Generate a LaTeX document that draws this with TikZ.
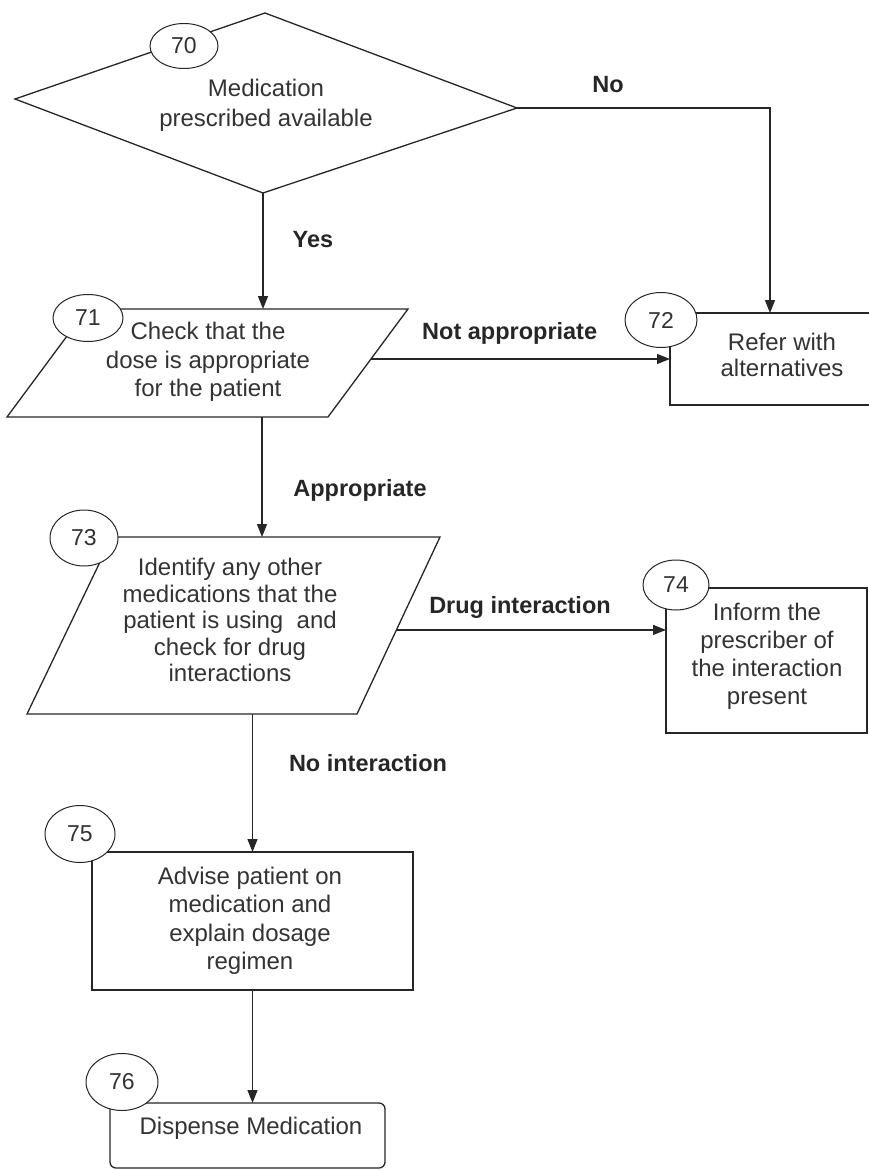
\documentclass[tikz,border=0pt]{standalone}
\usepackage{fontspec}
\setmainfont{Liberation Sans}
\usetikzlibrary{arrows.meta,shapes.geometric}
\definecolor{ink}{HTML}{262626}
\definecolor{txt}{HTML}{333333}
\begin{document}
\begin{tikzpicture}[x=1pt,y=-1pt,
  shapeline/.style={draw=ink,line width=1.3pt,line join=miter},
  flow/.style={draw=ink,line width=1.3pt,-{Triangle[length=13pt,width=10pt]}},
  stepbox/.style={shapeline,rectangle,fill=white,inner sep=0pt,outer sep=0pt},
  tag/.style={ellipse,draw=ink,line width=1pt,fill=white,inner sep=0pt,text=txt,
    font=\fontsize{23}{23}\selectfont},
  body/.style={align=center,text=txt,inner sep=0pt,font=\fontsize{24}{#1}\selectfont},
  body/.default=28.5,
  lbl/.style={text=ink,inner sep=0pt,font=\fontsize{23.5}{28}\selectfont\bfseries}]
\useasboundingbox (0,0) rectangle (869,1170);

% decision 70
\coordinate (dL) at (15,99);
\coordinate (dT) at (265,13);
\coordinate (dR) at (517,108);
\coordinate (dB) at (263,193);
\draw[shapeline,fill=white] (dL) -- (dT) -- (dR) -- (dB) -- cycle;
\node[body=30] (t70) at (266,105) {Medication\\prescribed available};

% input 71
\coordinate (p71TL) at (87,309);
\coordinate (p71TR) at (408,309);
\coordinate (p71BR) at (328,417);
\coordinate (p71BL) at (7,417);
\draw[shapeline] (p71TL) -- (p71TR) -- coordinate[pos=0.463] (e71) (p71BR) -- (p71BL) -- cycle;
\coordinate (o71) at (262,417);
\node[body] (t71) at (208,362) {Check that the\\dose is appropriate\\for the patient};

% box 72
\node[stepbox,minimum width=200pt,minimum height=92pt] (b72) at (770,359) {};
\node[body=26] (t72) at (782,355) {Refer with\\alternatives};

% input 73
\coordinate (p73TL) at (112,537);
\coordinate (p73TR) at (440,537);
\coordinate (p73BR) at (357,714);
\coordinate (p73BL) at (27,714);
\draw[shapeline] (p73TL) -- (p73TR) -- coordinate[pos=0.525] (e73) (p73BR) -- (p73BL) -- cycle;
\node[body=26.5] (t73) at (230,620) {Identify any other\\medications that the\\patient is using~~and\\check for drug\\interactions};

% box 74
\node[stepbox,minimum width=201pt,minimum height=145pt] (b74) at (766.5,660.5) {};
\node[body=28] (t74) at (767,656.5) {Inform the\\prescriber of\\the interaction\\present};

% box 75
\node[stepbox,minimum width=321pt,minimum height=138pt] (b75) at (252.5,921) {};
\node[body] (t75) at (250,921) {Advise patient on\\medication and\\explain dosage\\regimen};

% box 76
\node[stepbox,rounded corners=6pt,minimum width=275pt,minimum height=65pt] (b76) at (247.5,1135.5) {};
\node[body] (t76) at (251,1128) {Dispense Medication};

% number tags
\node[tag,minimum width=68pt,minimum height=45pt] (n70) at (184,46) {70};
\node[tag,minimum width=70pt,minimum height=47pt] (n71) at (88,318) {71};
\node[tag,minimum width=72pt,minimum height=55pt] (n72) at (661,320) {72};
\node[tag,minimum width=68pt,minimum height=56pt] (n73) at (84,538) {73};
\node[tag,minimum width=66pt,minimum height=50pt] (n74) at (676,585) {74};
\node[tag,minimum width=70pt,minimum height=57pt] (n75) at (80,834) {75};
\node[tag,minimum width=72pt,minimum height=57pt] (n76) at (122,1082) {76};

% connectors
\draw[flow] (dB) -- (dB |- p71TL);
\draw[flow] (dR) -- (dR -| b72.north) -- (b72.north);
\draw[flow] (e71) -- (e71 -| b72.west);
\draw[flow] (o71) -- (o71 |- p73TL);
\draw[flow] (e73) -- (e73 -| b74.west);
\draw[flow] (b75.north |- p73BL) -- (b75.north);
\draw[flow] (b75.south) -- (b75.south |- b76.north);

% connector labels
\node[lbl] (lyes) at (313,240) {Yes};
\node[lbl] (lno) at (608,85) {No};
\node[lbl,anchor=west] (lnot) at (422,333) {Not appropriate};
\node[lbl] (lapp) at (360,490) {Appropriate};
\node[lbl] (ldrug) at (520,607) {Drug interaction};
\node[lbl] (lnoint) at (368,763) {No interaction};
\end{tikzpicture}
\end{document}
